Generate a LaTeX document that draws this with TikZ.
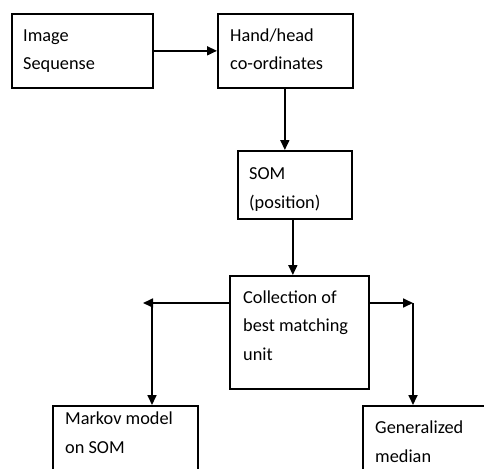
\documentclass[tikz,border=0pt]{standalone}
\usepackage{fontspec}
\setmainfont{Carlito}
\usetikzlibrary{arrows.meta}
\begin{document}
\begin{tikzpicture}[x=1pt,y=-1pt,
  box/.style={draw, line width=1.7pt, rectangle, inner sep=0pt, anchor=north west},
  lbl/.style={anchor=base west, inner sep=0pt, align=left,
    font=\fontsize{18.3}{28.5}\selectfont},
  arr/.style={line width=1.7pt, -{Triangle[length=10pt,width=9pt]}}]
\clip (0,0) rectangle (484,468);
% boxes
\node[box, minimum width=141, minimum height=74] (img) at (11,13) {};
\node[box, minimum width=135, minimum height=74] (hand) at (217,13) {};
\node[box, minimum width=114, minimum height=68] (som) at (237,150) {};
\node[box, minimum width=139, minimum height=113] (coll) at (229,275) {};
\node[box, minimum width=145, minimum height=90] (mk) at (52,405) {};
\node[box, minimum width=150, minimum height=90] (gm) at (362,405) {};
% texts
\node[lbl] (img-t) at (23,70) {Image\\Sequense};
\node[lbl] (hand-t) at (230,70) {Hand/head\\co-ordinates};
\node[lbl] (som-t) at (249,208) {SOM\\(position)};
\node[lbl] (coll-t) at (243,360) {Collection of\\best matching\\unit};
\node[lbl] (mk-t) at (65,453) {Markov model\\on SOM};
\node[lbl] (gm-t) at (375,462) {Generalized\\median};
% connectors
\coordinate (lt) at (143,303);
\coordinate (ld) at (152,303);
\coordinate (rt) at (413,303);
\draw[arr] (img.east) -- (hand.west);
\draw[arr] ([xshift=-0.5pt]hand.south) -- ([xshift=-0.5pt]hand.south |- som.north);
\draw[arr] ([xshift=-2pt]som.south) -- ([xshift=-2pt]som.south |- coll.north);
\draw[arr] (coll.west |- lt) -- (lt);
\draw[arr] (ld) -- (ld |- mk.north);
\draw[arr] (coll.east |- rt) -- (rt);
\draw[arr] (rt) -- (rt |- gm.north);
\end{tikzpicture}
\end{document}
